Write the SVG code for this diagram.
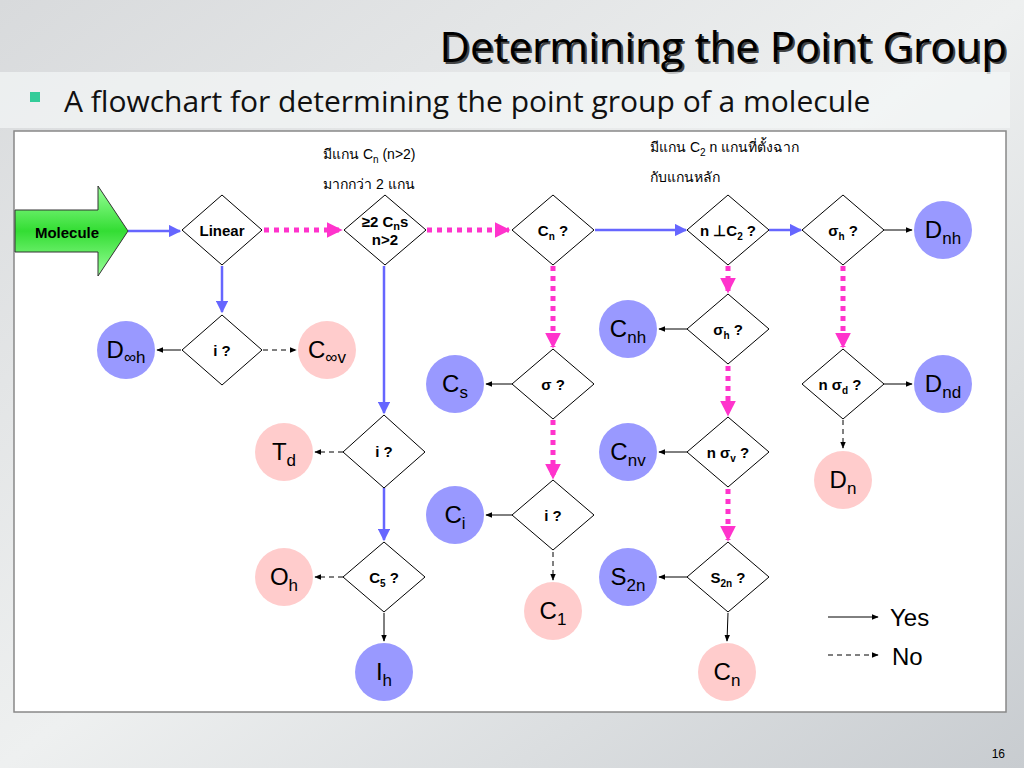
<svg xmlns="http://www.w3.org/2000/svg" width="1024" height="768" viewBox="0 0 1024 768">
<defs>
<linearGradient id="bg" x1="0" y1="0" x2="1" y2="1"><stop offset="0" stop-color="#d8dadc"/><stop offset="0.5" stop-color="#eef0f0"/><stop offset="1" stop-color="#c8ccd0"/></linearGradient>
<linearGradient id="grn" x1="0" y1="0" x2="0" y2="1"><stop offset="0" stop-color="#99ff99"/><stop offset="0.5" stop-color="#33dd33"/><stop offset="1" stop-color="#99ff99"/></linearGradient>
<marker id="ab" viewBox="0 0 10 10" refX="9" refY="5" markerWidth="5" markerHeight="5" orient="auto"><path d="M0,0L10,5L0,10z" fill="#6666ff"/></marker>
<marker id="ap" viewBox="0 0 10 10" refX="9" refY="5" markerWidth="3.2" markerHeight="3.2" orient="auto"><path d="M0,0L10,5L0,10z" fill="#ff33cc"/></marker>
<marker id="ak" viewBox="0 0 10 10" refX="9" refY="5" markerWidth="7" markerHeight="7" orient="auto"><path d="M0,1L10,5L0,9z" fill="#000"/></marker>
</defs>
<style>
.d{fill:#fff;stroke:#000;stroke-width:1}
.b{fill:#9999ff}.p{fill:#ffcccc}
.q{font-family:"Liberation Sans",Arial,sans-serif;font-weight:bold;font-size:15px;text-anchor:middle}
.r{font-family:"Liberation Sans",Arial,sans-serif;font-size:24px;text-anchor:middle}
.th{font-family:"Liberation Sans","Noto Sans",sans-serif;font-size:14px}
.lb{stroke:#6666ff;stroke-width:2.5;fill:none;marker-end:url(#ab)}
.lp{stroke:#ff33cc;stroke-width:5;stroke-dasharray:5 5;fill:none;marker-end:url(#ap)}
.ls{stroke:#000;stroke-width:1;fill:none;marker-end:url(#ak)}
.ld{stroke:#000;stroke-width:1;stroke-dasharray:5 4;fill:none;marker-end:url(#ak)}
</style>
<rect width="1024" height="768" fill="url(#bg)"/>
<text x="1007" y="62" font-family="Open Sans,DejaVu Sans,sans-serif" font-size="42" text-anchor="end" fill="#444" transform="translate(2,2)">Determining the Point Group</text>
<text x="1007" y="62" font-family="Open Sans,DejaVu Sans,sans-serif" font-size="42" text-anchor="end" fill="#000">Determining the Point Group</text>
<rect x="0" y="72" width="1010" height="56" fill="#f4f6f6" opacity="0.7"/>
<rect x="30" y="92" width="10" height="10" fill="#33cc99"/>
<text x="64" y="112" font-family="Open Sans,DejaVu Sans,sans-serif" font-size="30" fill="#111">A flowchart for determining the point group of a molecule</text>
<rect x="14" y="131" width="992" height="581" fill="#fff" stroke="#888" stroke-width="1.5"/>
<text x="1005" y="758" font-family="Liberation Sans,sans-serif" font-size="12" text-anchor="end">16</text>
<text class="th" x="323" y="159">มีแกน C<tspan font-size="10" dy="4">n</tspan><tspan dy="-4"> (n&gt;2)</tspan></text>
<text class="th" x="323" y="189">มากกว่า 2 แกน</text>
<text class="th" x="650" y="152">มีแกน C<tspan font-size="10" dy="4">2</tspan><tspan dy="-4"> n แกนที่ตั้งฉาก</tspan></text>
<text class="th" x="650" y="182">กับแกนหลัก</text>
<g id="connectors">
<path class="lb" d="M128,231H180"/>
<path class="lp" d="M264,230H341"/>
<path class="lb" d="M222,266V312"/>
<path class="ls" d="M181,350H157"/>
<path class="ld" d="M263,350H296"/>
<path class="lp" d="M427,230H509"/>
<path class="lb" d="M384,266V413"/>
<path class="ld" d="M343,452H315"/>
<path class="lb" d="M384,488V540"/>
<path class="ld" d="M343,577H315"/>
<path class="ls" d="M384,613V641"/>
<path class="lb" d="M595,230H686"/>
<path class="lp" d="M553,266V347"/>
<path class="ls" d="M512,384H486"/>
<path class="lp" d="M553,420V478"/>
<path class="ls" d="M512,515H486"/>
<path class="ld" d="M553,552V580"/>
<path class="lb" d="M769,230H801"/>
<path class="lp" d="M728,266V292"/>
<path class="ls" d="M687,329H659"/>
<path class="lp" d="M728,366V415"/>
<path class="ls" d="M687,452H659"/>
<path class="lp" d="M728,489V540"/>
<path class="ls" d="M687,577H659"/>
<path class="ls" d="M728,613L727,641"/>
<path class="ls" d="M884,230H912"/>
<path class="lp" d="M843,266V347"/>
<path class="ls" d="M884,384H912"/>
<path class="ld" d="M843,420V448"/>
<path class="ls" d="M828,617H878"/>
<path class="ld" d="M828,655H878"/>
</g>
<g id="molecule"><path d="M15,210H98V186L128,231L98,276V252H15z" fill="url(#grn)" stroke="#333"/><text class="q" x="67" y="238" font-size="16">Molecule</text></g>
<g id="linear"><path class="d" d="M222,195L262,230L222,265L182,230z"/><text class="q" x="222" y="236" font-size="16">Linear</text></g>
<g id="cns"><path class="d" d="M385,195L426,230L385,265L344,230z"/><text class="q" x="385" y="227" font-size="16">≥2 C<tspan font-size="11" dy="3">n</tspan><tspan dy="-3">s</tspan></text><text class="q" x="385" y="245" font-size="10">n&gt;2</text></g>
<g id="cnq"><path class="d" d="M553,195L594,230L553,265L512,230z"/><text class="q" x="553" y="236">C<tspan font-size="10" dy="4">n</tspan><tspan dy="-4"> ?</tspan></text></g>
<g id="nc2"><path class="d" d="M728,195L769,230L728,265L687,230z"/><text class="q" x="728" y="236">n ⊥C<tspan font-size="10" dy="4">2</tspan><tspan dy="-4"> ?</tspan></text></g>
<g id="sh1"><path class="d" d="M843,195L884,230L843,265L802,230z"/><text class="q" x="843" y="236">σ<tspan font-size="10" dy="4">h</tspan><tspan dy="-4"> ?</tspan></text></g>
<g id="i1"><path class="d" d="M222,315L262,350L222,385L182,350z"/><text class="q" x="222" y="356">i ?</text></g>
<g id="sh2"><path class="d" d="M728,294L769,329L728,364L687,329z"/><text class="q" x="728" y="335">σ<tspan font-size="10" dy="4">h</tspan><tspan dy="-4"> ?</tspan></text></g>
<g id="sig"><path class="d" d="M553,349L594,384L553,419L512,384z"/><text class="q" x="553" y="390">σ ?</text></g>
<g id="nsd"><path class="d" d="M843,349L884,384L843,419L802,384z"/><text class="q" x="840" y="390">n σ<tspan font-size="10" dy="4">d</tspan><tspan dy="-4"> ?</tspan></text></g>
<g id="i2"><path class="d" d="M384,415L425,452L384,488L343,452z"/><text class="q" x="384" y="457">i ?</text></g>
<g id="nsv"><path class="d" d="M728,417L769,452L728,487L687,452z"/><text class="q" x="728" y="458">n σ<tspan font-size="10" dy="4">v</tspan><tspan dy="-4"> ?</tspan></text></g>
<g id="i3"><path class="d" d="M553,480L594,515L553,550L512,515z"/><text class="q" x="553" y="521">i ?</text></g>
<g id="c5"><path class="d" d="M384,542L425,577L384,612L343,577z"/><text class="q" x="384" y="583">C<tspan font-size="10" dy="4">5</tspan><tspan dy="-4"> ?</tspan></text></g>
<g id="s2nq"><path class="d" d="M728,542L769,577L728,612L687,577z"/><text class="q" x="728" y="583">S<tspan font-size="10" dy="4">2n</tspan><tspan dy="-4"> ?</tspan></text></g>
<g id="Dnh"><circle class="b" cx="943" cy="230" r="29"/><text class="r" x="943" y="238">D<tspan font-size="17" dy="6">nh</tspan></text></g>
<g id="Dinfh"><circle class="b" cx="126" cy="350" r="29"/><text class="r" x="126" y="358">D<tspan font-size="17" dy="5">∞h</tspan></text></g>
<g id="Cinfv"><circle class="p" cx="327" cy="350" r="29"/><text class="r" x="327" y="358">C<tspan font-size="17" dy="5">∞v</tspan></text></g>
<g id="Cnh"><circle class="b" cx="628" cy="329" r="29"/><text class="r" x="628" y="337">C<tspan font-size="17" dy="6">nh</tspan></text></g>
<g id="Cs"><circle class="b" cx="455" cy="384" r="29"/><text class="r" x="455" y="392">C<tspan font-size="17" dy="6">s</tspan></text></g>
<g id="Dnd"><circle class="b" cx="943" cy="384" r="29"/><text class="r" x="943" y="392">D<tspan font-size="17" dy="6">nd</tspan></text></g>
<g id="Td"><circle class="p" cx="284" cy="452" r="29"/><text class="r" x="284" y="460">T<tspan font-size="17" dy="6">d</tspan></text></g>
<g id="Cnv"><circle class="b" cx="628" cy="452" r="29"/><text class="r" x="628" y="460">C<tspan font-size="17" dy="6">nv</tspan></text></g>
<g id="Dn"><circle class="p" cx="843" cy="480" r="29"/><text class="r" x="843" y="488">D<tspan font-size="17" dy="6">n</tspan></text></g>
<g id="Ci"><circle class="b" cx="455" cy="515" r="29"/><text class="r" x="455" y="523">C<tspan font-size="17" dy="6">i</tspan></text></g>
<g id="Oh"><circle class="p" cx="284" cy="577" r="29"/><text class="r" x="284" y="585">O<tspan font-size="17" dy="6">h</tspan></text></g>
<g id="S2n"><circle class="b" cx="628" cy="577" r="29"/><text class="r" x="628" y="585">S<tspan font-size="17" dy="6">2n</tspan></text></g>
<g id="C1"><circle class="p" cx="553" cy="611" r="29"/><text class="r" x="553" y="619">C<tspan font-size="17" dy="6">1</tspan></text></g>
<g id="Ih"><circle class="b" cx="384" cy="672" r="29"/><text class="r" x="384" y="680">I<tspan font-size="17" dy="6">h</tspan></text></g>
<g id="Cn"><circle class="p" cx="727" cy="672" r="29"/><text class="r" x="727" y="680">C<tspan font-size="17" dy="6">n</tspan></text></g>
<g id="legend"><text x="890" y="626" font-family="Liberation Sans,sans-serif" font-size="24">Yes</text><text x="892" y="665" font-family="Liberation Sans,sans-serif" font-size="24">No</text></g>
</svg>
